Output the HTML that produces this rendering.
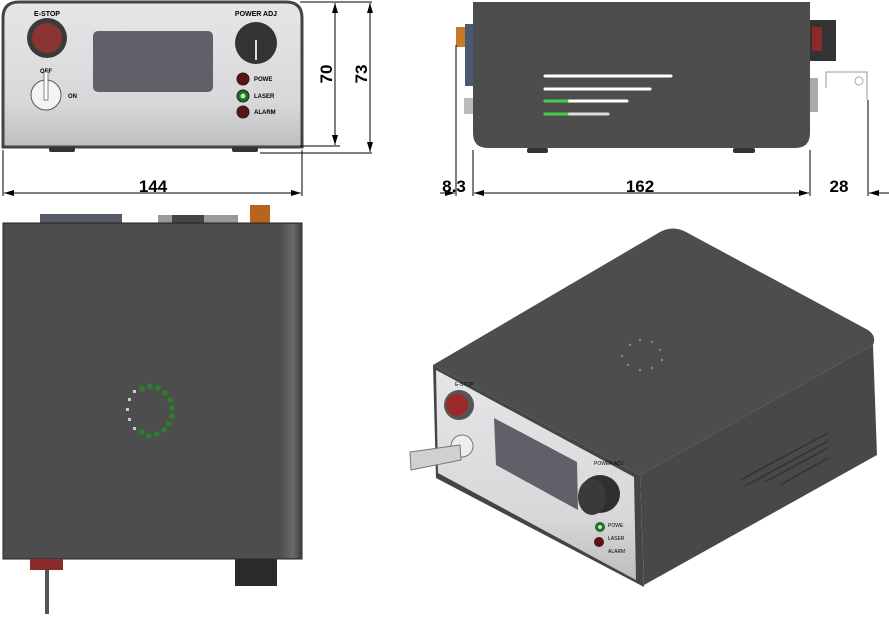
<!DOCTYPE html>
<html><head><meta charset="utf-8"><style>html,body{margin:0;padding:0;background:#fff}svg{display:block}</style></head><body>
<svg width="889" height="619" viewBox="0 0 889 619" xmlns="http://www.w3.org/2000/svg" font-family="Liberation Sans, sans-serif">
<defs>
<linearGradient id="fp" x1="0" y1="0" x2="0" y2="1"><stop offset="0" stop-color="#e6e6e8"/><stop offset="0.7" stop-color="#d8d8da"/><stop offset="1" stop-color="#bdbdbf"/></linearGradient>
<linearGradient id="tr" x1="0" y1="0" x2="1" y2="0"><stop offset="0" stop-color="#4d4d4d"/><stop offset="0.6" stop-color="#6a6a6a"/><stop offset="1" stop-color="#3a3a3a"/></linearGradient>
<marker id="ar" markerWidth="10" markerHeight="6" refX="10" refY="3" orient="auto-start-reverse"><path d="M0,0 L10,3 L0,6 z" fill="#000"/></marker>
</defs>
<!-- FRONT VIEW -->
<path d="M3,147 L3,18 Q3,2 19,2 L286,2 Q302,2 302,18 L302,147 Z" fill="url(#fp)" stroke="#444" stroke-width="3"/>
<rect x="49" y="147" width="26" height="5" rx="2" fill="#333"/>
<rect x="232" y="147" width="26" height="5" rx="2" fill="#333"/>
<text x="47" y="16" font-size="7" font-weight="bold" text-anchor="middle">E-STOP</text>
<circle cx="47" cy="38" r="20" fill="#3a3a3a"/><circle cx="47" cy="38" r="15" fill="#8b3434"/>
<text x="46" y="73" font-size="6" font-weight="bold" text-anchor="middle">OFF</text>
<circle cx="46" cy="95" r="15" fill="#f4f4f4" stroke="#555"/><rect x="44" y="72" width="4" height="28" fill="#fff" stroke="#666" stroke-width="0.8"/>
<text x="68" y="98" font-size="6" font-weight="bold">ON</text>
<rect x="93" y="31" width="120" height="61" rx="5" fill="#5f6068"/>
<text x="256" y="16" font-size="7" font-weight="bold" text-anchor="middle">POWER ADJ</text>
<circle cx="256" cy="43" r="21" fill="#333"/><rect x="255" y="40" width="2" height="20" fill="#ddd"/>
<circle cx="243" cy="79" r="6" fill="#5a1414" stroke="#222"/><text x="254" y="81" font-size="6" font-weight="bold">POWE</text>
<circle cx="243" cy="96" r="6" fill="#2a6a2a" stroke="#222"/><circle cx="243" cy="96" r="2.5" fill="#9f9"/><text x="254" y="98" font-size="6" font-weight="bold">LASER</text>
<circle cx="243" cy="112" r="6" fill="#5a1414" stroke="#222"/><text x="254" y="114" font-size="6" font-weight="bold">ALARM</text>
<!-- front dims -->
<g stroke="#000" stroke-width="1" fill="none">
<line x1="300" y1="2" x2="372" y2="2"/><line x1="300" y1="146" x2="340" y2="146"/><line x1="260" y1="153" x2="372" y2="153"/>
<line x1="335" y1="3" x2="335" y2="145" marker-start="url(#ar)" marker-end="url(#ar)"/>
<line x1="370" y1="3" x2="370" y2="152" marker-start="url(#ar)" marker-end="url(#ar)"/>
<line x1="3" y1="150" x2="3" y2="196"/><line x1="302" y1="150" x2="302" y2="196"/>
<line x1="4" y1="193" x2="301" y2="193" marker-start="url(#ar)" marker-end="url(#ar)"/>
</g>
<text x="153" y="192" font-size="17" font-weight="bold" text-anchor="middle">144</text>
<text transform="translate(332,74) rotate(-90)" font-size="17" font-weight="bold" text-anchor="middle">70</text>
<text transform="translate(367,74) rotate(-90)" font-size="17" font-weight="bold" text-anchor="middle">73</text>
<!-- SIDE VIEW -->
<rect x="456" y="27" width="12" height="20" fill="#c87a2a"/>
<rect x="465" y="24" width="8" height="62" fill="#4a5870"/>
<rect x="464" y="98" width="9" height="16" fill="#bbb"/>
<path d="M473,2 L810,2 L810,133 Q810,148 795,148 L488,148 Q473,148 473,133 Z" fill="#4d4d4d"/>
<rect x="527" y="148" width="21" height="5" rx="2" fill="#333"/><rect x="733" y="148" width="22" height="5" rx="2" fill="#333"/>
<rect x="810" y="20" width="26" height="41" fill="#333"/><rect x="812" y="27" width="10" height="24" fill="#8b2a2a"/>
<rect x="810" y="78" width="8" height="34" fill="#aaa"/>
<path d="M826,88 L826,72 L867,72 L867,100" fill="none" stroke="#999"/><circle cx="859" cy="81" r="4" fill="none" stroke="#aaa"/>
<g stroke-linecap="round" stroke-width="3">
<line x1="545" y1="76" x2="671" y2="76" stroke="#fff"/>
<line x1="545" y1="89" x2="650" y2="89" stroke="#fff"/>
<line x1="545" y1="101" x2="627" y2="101" stroke="#fff"/><line x1="545" y1="101" x2="567" y2="101" stroke="#4c4"/>
<line x1="545" y1="114" x2="608" y2="114" stroke="#ddd"/><line x1="545" y1="114" x2="567" y2="114" stroke="#4c4"/>
</g>
<g stroke="#000" stroke-width="1" fill="none">
<line x1="456" y1="45" x2="456" y2="196"/><line x1="473" y1="150" x2="473" y2="196"/><line x1="810" y1="150" x2="810" y2="196"/><line x1="868" y1="100" x2="868" y2="196"/>
<line x1="440" y1="193" x2="455" y2="193" marker-end="url(#ar)"/>
<line x1="474" y1="193" x2="809" y2="193" marker-start="url(#ar)" marker-end="url(#ar)"/>
<line x1="869" y1="193" x2="889" y2="193" marker-start="url(#ar)"/>
</g>
<text x="454" y="192" font-size="17" font-weight="bold" text-anchor="middle">8.3</text>
<text x="640" y="192" font-size="17" font-weight="bold" text-anchor="middle">162</text>
<text x="839" y="192" font-size="17" font-weight="bold" text-anchor="middle">28</text>
<!-- TOP VIEW -->
<rect x="40" y="214" width="82" height="9" fill="#555a66"/>
<rect x="158" y="215" width="80" height="8" fill="#9a9a9a"/><rect x="172" y="215" width="32" height="8" fill="#444"/>
<rect x="250" y="205" width="20" height="18" fill="#b8641e"/>
<rect x="3" y="223" width="299" height="336" fill="#4d4d4d" stroke="#222"/>
<rect x="280" y="224" width="22" height="334" fill="url(#tr)"/>
<rect x="30" y="559" width="33" height="11" fill="#8b2a2a"/>
<rect x="45" y="570" width="4" height="44" fill="#555"/>
<rect x="235" y="559" width="42" height="27" fill="#2a2a2a"/>
<g fill="#2f7a2f">
<circle cx="150" cy="386" r="3"/><circle cx="158" cy="388" r="3"/><circle cx="165" cy="393" r="3"/><circle cx="170" cy="400" r="3"/><circle cx="172" cy="408" r="3"/><circle cx="172" cy="416" r="3"/><circle cx="169" cy="424" r="3"/><circle cx="164" cy="430" r="3"/><circle cx="157" cy="434" r="3"/><circle cx="149" cy="436" r="3"/><circle cx="142" cy="432" r="3"/><circle cx="142" cy="389" r="3"/>
</g>
<g fill="#ccc"><rect x="133" y="390" width="3" height="3"/><rect x="128" y="398" width="3" height="3"/><rect x="126" y="408" width="3" height="3"/><rect x="128" y="418" width="3" height="3"/><rect x="133" y="427" width="3" height="3"/></g>
<!-- ISOMETRIC -->
<path d="M433,365 L660,232 Q673,225 686,232 L868,330 Q877,336 873,345 L640,475 Z" fill="#4d4d4d"/>
<path d="M640,475 L873,345 L877,455 L644,585 Z" fill="#484848"/>
<path d="M433,365 L640,475 L644,587 L436,478 Z" fill="#454545"/>
<path d="M436,370 L634,477 L636,580 L438,473 Z" fill="url(#fp)"/>
<g stroke="#333" stroke-width="1.5"><line x1="740" y1="480" x2="828" y2="433"/><line x1="745" y1="486" x2="828" y2="441"/><line x1="765" y1="482" x2="828" y2="448"/><line x1="780" y1="485" x2="828" y2="458"/></g>
<g fill="#888"><circle cx="630" cy="345" r="1.2"/><circle cx="640" cy="340" r="1.2"/><circle cx="652" cy="342" r="1.2"/><circle cx="660" cy="350" r="1.2"/><circle cx="662" cy="360" r="1.2"/><circle cx="652" cy="368" r="1.2"/><circle cx="640" cy="370" r="1.2"/><circle cx="628" cy="365" r="1.2"/><circle cx="622" cy="356" r="1.2"/></g>
<text x="455" y="386" font-size="5">E-STOP</text>
<circle cx="459" cy="405" r="15" fill="#555"/><circle cx="457" cy="405" r="11" fill="#9a2a2a"/>
<path d="M494,418 L577,462 L578,510 L496,465 Z" fill="#5f6068"/>
<circle cx="462" cy="446" r="11" fill="#eee" stroke="#777"/>
<path d="M410,452 L460,445 L461,460 L411,470 Z" fill="#d0d0d0" stroke="#777"/>
<text x="594" y="465" font-size="5">POWER ADJ</text>
<ellipse cx="600" cy="494" rx="20" ry="19" fill="#2f2f2f"/><ellipse cx="592" cy="497" rx="14" ry="18" fill="#3a3a3a"/>
<circle cx="600" cy="527" r="5" fill="#2a6a2a"/><circle cx="600" cy="527" r="2" fill="#9f9"/><text x="608" y="527" font-size="5">POWE</text>
<circle cx="599" cy="542" r="5" fill="#5a1414"/><text x="608" y="540" font-size="5">LASER</text>
<text x="608" y="553" font-size="5">ALARM</text>
</svg>
</body></html>
